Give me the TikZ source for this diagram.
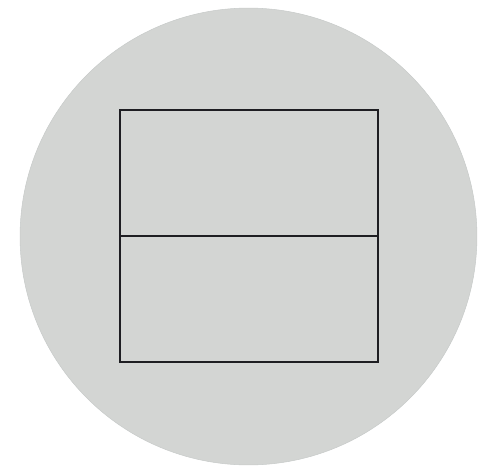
\documentclass[tikz,border=0pt]{standalone}
\usetikzlibrary{positioning}
\definecolor{plategray}{RGB}{211,213,211}
\definecolor{plateedge}{RGB}{200,203,202}
\definecolor{boxline}{RGB}{30,30,34}

\begin{document}
\begin{tikzpicture}[
  x=0.02cm, y=-0.02cm,
  half/.style={draw=boxline, line width=0.04cm, minimum width=5.16cm,
    minimum height=2.52cm, inner sep=0pt, outer sep=0pt},
]
  \useasboundingbox (0,0) rectangle (478,468);
  % the round plate
  \fill[plategray, draw=plateedge, line width=0.3pt] (248.5,236.5) circle[radius=4.57cm];
  % two halves of the frame
  \node[half] (upper) at (249,173) {};
  \node[half, below=0pt of upper] (lower) {};
\end{tikzpicture}
\end{document}
